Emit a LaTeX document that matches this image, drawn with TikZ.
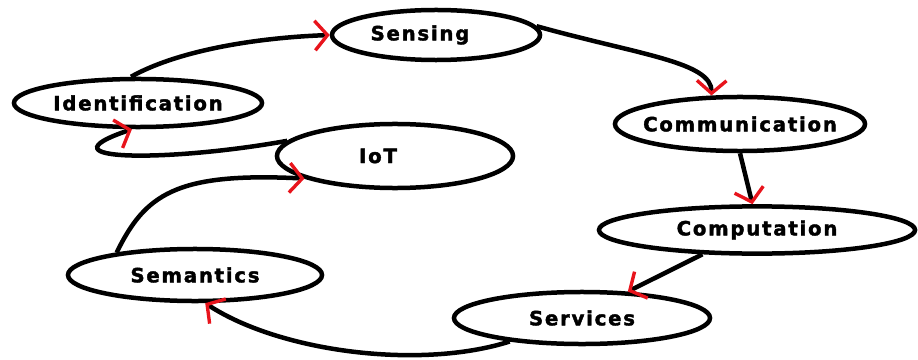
\documentclass[tikz,border=0pt]{standalone}
\usepackage{fontspec}
\newfontfamily\stagefont[LetterSpace=9, FakeBold=2]{DejaVu Sans Bold}
\usetikzlibrary{shapes.geometric, arrows.meta}

\begin{document}
\begin{tikzpicture}[x=0.025cm, y=-0.025cm,
    stage/.style={ellipse, draw=borderColour, line width=3.2pt, inner xsep=-24pt, inner ysep=0pt,
        font=\stagefont\fontsize{14}{16}\selectfont},
    flow/.style={draw=borderColour, line width=3.2pt,
        -{Straight Barb[color=arrowColour, length=9pt, width=21pt, line width=2.4pt]}}]
    % Define colours
    \definecolor{borderColour}{HTML}{000000}
    \definecolor{arrowColour}{HTML}{E8141C}

    % Fix picture size
    \useasboundingbox (0,0) rectangle (918,360);

    % Draw stages
    \node[stage, minimum width=5.2cm, minimum height=1.25cm] (sensing) at (436,35) {Sensing\hspace*{0.8cm}\mbox{}};
    \node[stage, minimum width=6.2cm, minimum height=1.2cm] (ident) at (138,103) {Identification};
    \node[stage, minimum width=6.25cm, minimum height=1.35cm] (comm) at (740,124) {Communication};
    \node[stage, minimum width=5.9cm, minimum height=1.6cm] (iot) at (395,156) {IoT\hspace*{0.85cm}\mbox{}};
    \node[stage, minimum width=7.9cm, minimum height=1.18cm] (comput) at (757,230) {Computation};
    \node[stage, minimum width=6.35cm, minimum height=1.3cm] (semantics) at (195,275) {Semantics};
    \node[stage, minimum width=6.4cm, minimum height=1.3cm] (services) at (582,318) {Services};

    % Draw cycle
    \draw[flow] (ident.105) .. controls (175,52) and (250,38) .. (sensing.west);
    \draw[flow] (sensing.5) .. controls (640,55) and (712,62) .. (comm.135);
    \draw[flow] (comm.south) -- (comput.100);
    \draw[flow] (comput.204) -- (services.30);
    \draw[flow] (services.198) .. controls (420,370) and (280,352) .. (semantics.290);
    \draw[flow] (semantics.164) .. controls (145,195) and (175,172) .. (iot.194);
    \draw[flow] (iot.172) .. controls (170,162) and (35,162) .. (ident.257);

\end{tikzpicture}
\end{document}
